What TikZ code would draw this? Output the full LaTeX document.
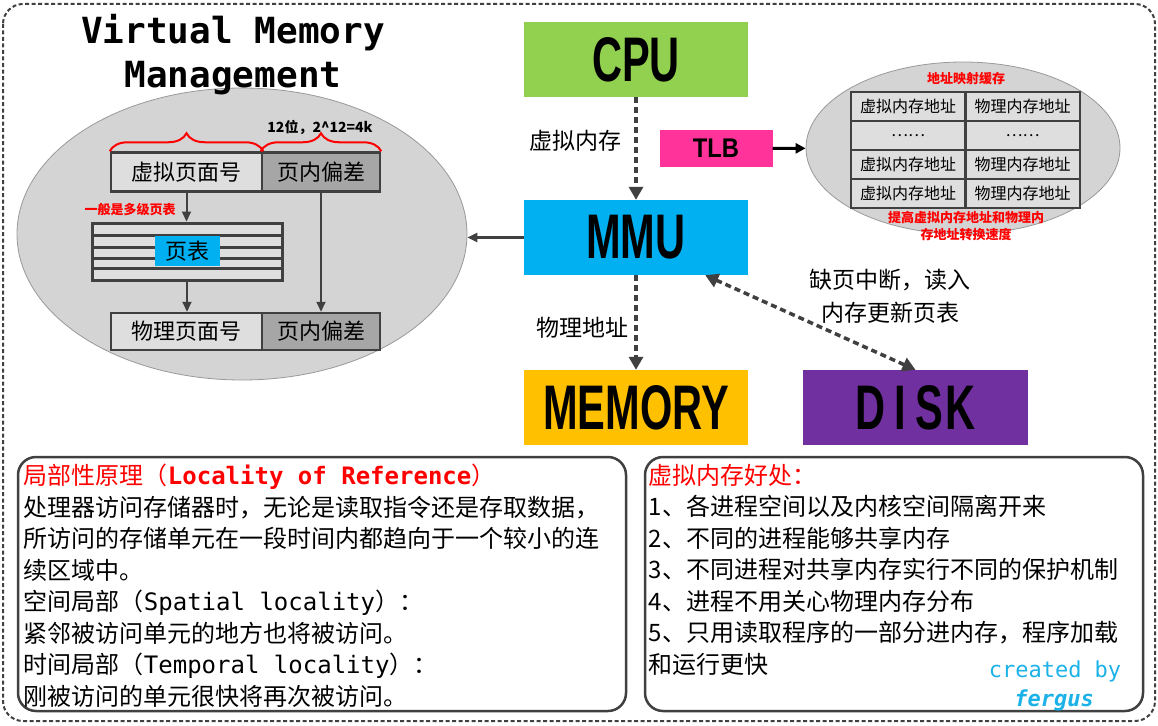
\documentclass[tikz,border=0pt]{standalone}
\usepackage{fontspec}
\usepackage{graphicx}
\setmainfont{Noto Sans CJK SC}
\setmonofont{DejaVu Sans Mono}
\newfontfamily\hwfont{Liberation Sans}
\usetikzlibrary{arrows.meta,shapes.geometric,decorations.pathreplacing}
\definecolor{darkline}{HTML}{404040}
\definecolor{bubblegray}{HTML}{D4D4D4}
\definecolor{fieldlight}{HTML}{DEDEDE}
\definecolor{fielddark}{HTML}{A6A6A6}
\definecolor{cpugreen}{HTML}{92D050}
\definecolor{mmublue}{HTML}{00B0F0}
\definecolor{memyellow}{HTML}{FFC000}
\definecolor{diskpurple}{HTML}{7030A0}
\definecolor{tlbpink}{HTML}{FF3399}
\definecolor{signcyan}{HTML}{1CB2E8}
\newcommand{\narrowbold}[3]{\scalebox{#1}[1]{\hwfont\bfseries\fontsize{#2}{#2}\selectfont #3}}

\begin{document}
\begin{tikzpicture}[x=1pt,y=-1pt,
  hwbox/.style={minimum width=224pt,minimum height=75pt,inner sep=0pt},
  field/.style={draw=darkline,line width=2.5pt,minimum height=39pt,inner sep=0pt,font=\fontsize{22}{22}\selectfont},
  cell/.style={draw=darkline,line width=2.5pt,fill=fieldlight,minimum width=114.5pt,minimum height=29pt,inner sep=0pt,font=\fontsize{16}{16}\selectfont},
  bubble/.style={ellipse,fill=bubblegray,draw=gray!80,line width=0.8pt,inner sep=0pt},
  note/.style={text=red,font=\fontsize{13}{17}\selectfont\bfseries,align=center},
  arr/.style={draw=darkline,line width=2pt,-{Triangle[length=10pt,width=9pt]}},
  dasharr/.style={draw=darkline,line width=3.5pt,dash pattern=on 6pt off 4pt,-{Triangle[length=13pt,width=14pt]}},
  lbl/.style={font=\fontsize{23}{33}\selectfont,align=center},
  textbox/.style={draw=darkline,line width=2.5pt,rounded corners=18pt,fill=white,minimum height=254pt,inner sep=0pt},
  body/.style={anchor=north west,align=left,inner sep=0pt,font=\fontsize{24}{31.5}\selectfont}]
\useasboundingbox (0,0) rectangle (1158,725);
\fill[white] (0,0) rectangle (1158,725);
\draw[darkline,line width=2pt,dash pattern=on 4pt off 2.5pt,rounded corners=20pt] (3,4) rectangle (1155,721);

% page translation
\node[bubble,minimum width=450pt,minimum height=292pt] (pagebubble) at (242,234) {};
\node[font=\fontsize{36}{44}\selectfont\ttfamily\bfseries,align=center] (title) at (233,55) {Virtual Memory\\Management};
\node[field,fill=fieldlight,minimum width=151pt] (vpn) at (186.5,172) {虚拟页面号};
\node[field,fill=fielddark,minimum width=118pt] (voffset) at (321,172) {页内偏差};
\node[field,fill=fieldlight,minimum width=151pt,minimum height=37pt] (ppn) at (186.5,331.5) {物理页面号};
\node[field,fill=fielddark,minimum width=118pt,minimum height=37pt] (poffset) at (321,331.5) {页内偏差};
\draw[red,line width=2pt,decorate,decoration={brace,amplitude=18pt}] (vpn.north west) -- (vpn.north east);
\draw[red,line width=2pt,decorate,decoration={brace,amplitude=18pt}] (voffset.north west) -- (voffset.north east);
\node[font=\fontsize{14}{14}\selectfont\bfseries] (bits) at (320,127) {12位，2\textasciicircum12=4k};
\node[draw=darkline,line width=3pt,fill=fieldlight,minimum width=190pt,minimum height=57pt,inner sep=0pt] (pagetable) at (187,251.5) {};
\foreach \ly in {235,247,258,268}
  \draw[darkline,line width=3pt] (92,\ly) -- (282,\ly);
\node[fill=mmublue,minimum width=65pt,minimum height=30pt,inner sep=0pt,font=\fontsize{22}{22}\selectfont] (ptname) at (187.5,251) {页表};
\node[note] (multilevel) at (130,210) {一般是多级页表};
\draw[arr] (vpn.south) -- (vpn.south |- pagetable.north);
\draw[arr] (pagetable.south) -- (pagetable.south |- ppn.north);
\draw[arr] (voffset.south) -- (poffset.north);

% hardware
\node[hwbox,fill=cpugreen] (cpu) at (636,59.5) {\narrowbold{0.66}{63}{CPU}};
\node[hwbox,fill=mmublue] (mmu) at (636,237.5) {\narrowbold{0.66}{63}{MMU}};
\node[hwbox,fill=memyellow] (memory) at (636,407.5) {\narrowbold{0.66}{63}{MEMORY}};
\node[hwbox,fill=diskpurple,minimum width=225pt] (disk) at (915.5,407.5) {\narrowbold{0.66}{63}{D\kern14pt I\kern14pt S\kern4pt K}};
\node[fill=tlbpink,minimum width=113pt,minimum height=37pt,inner sep=0pt] (tlb) at (716,148.5) {\narrowbold{0.88}{27}{TLB}};

% tlb cache
\node[bubble,minimum width=314pt,minimum height=172pt] (tlbcache) at (963,148) {};
\node[note] (cachetitle) at (966,79) {地址映射缓存};
\foreach \r/\yy/\va/\pa in {1/106.5/虚拟内存地址/物理内存地址,2/135.5/……/……,3/164.5/虚拟内存地址/物理内存地址,4/193.5/虚拟内存地址/物理内存地址} {
  \node[cell] (va\r) at (908,\yy) {\va};
  \node[cell] (pa\r) at (1022.5,\yy) {\pa};
}
\node[note] (cachenote) at (966,226) {提高虚拟内存地址和物理内\\存地址转换速度};

% connectors
\draw[dasharr] (cpu) -- (mmu);
\draw[dasharr] (mmu) -- (memory);
\draw[dasharr,{Triangle[length=13pt,width=14pt]}-{Triangle[length=13pt,width=14pt]}] ([xshift=-43pt]mmu.south east) -- (disk.north);
\draw[arr,line width=3pt] (mmu.west) -- (mmu.west -| pagebubble.east);
\draw[black,line width=3pt,-{Triangle[length=10pt,width=10pt]}] (tlb) -- (tlbcache);
\node[lbl] (vlabel) at (575,141) {虚拟内存};
\node[lbl] (plabel) at (582,328) {物理地址};
\node[lbl] (faultlabel) at (890,296) {缺页中断，读入\\内存更新页表};

% notes
\node[textbox,minimum width=608pt] (locality) at (322,584) {};
\node[textbox,minimum width=498pt] (benefits) at (894,584) {};
\node[body] (localitytext) at ([shift={(7,8)}]locality.north west) {%
{\color{red}局部性原理（{\ttfamily\bfseries Locality of Reference}）}\\
处理器访问存储器时，无论是读取指令还是存取数据，\\
所访问的存储单元在一段时间内都趋向于一个较小的连\\
续区域中。\\
空间局部（{\ttfamily Spatial locality}）：\\
紧邻被访问单元的地方也将被访问。\\
时间局部（{\ttfamily Temporal locality}）：\\
刚被访问的单元很快将再次被访问。};
\node[body] (benefitstext) at ([shift={(5,8)}]benefits.north west) {%
{\color{red}虚拟内存好处：}\\
1、各进程空间以及内核空间隔离开来\\
2、不同的进程能够共享内存\\
3、不同进程对共享内存实行不同的保护机制\\
4、进程不用关心物理内存分布\\
5、只用读取程序的一部分进内存，程序加载\\
和运行更快};
\node[text=signcyan,font=\fontsize{22}{22}\selectfont\ttfamily] (credit) at (1055,671) {created by};
\node[text=signcyan,font=\fontsize{22}{22}\selectfont\ttfamily\bfseries\itshape] (author) at (1054,700) {fergus};
\end{tikzpicture}
\end{document}
